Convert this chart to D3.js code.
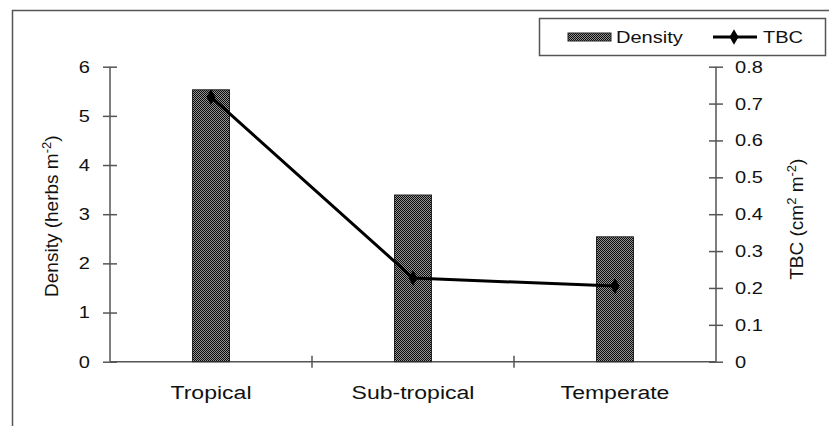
<!DOCTYPE html>
<html>
<head>
<meta charset="utf-8">
<script src="https://cdn.jsdelivr.net/npm/d3@7"></script>
<style>
  body { margin: 0; background: #fff; }
  svg { display: block; font-family: "Liberation Sans", Arial, sans-serif; }
</style>
</head>
<body>
<div class="display"></div>
<script>
const categories = ['Tropical', 'Sub-tropical', 'Temperate'];
const density = [5.53, 3.39, 2.54];
const tbc = [0.718, 0.227, 0.205];
const densityTicks = [0, 1, 2, 3, 4, 5, 6];
const tbcTicks = [0, 0.1, 0.2, 0.3, 0.4, 0.5, 0.6, 0.7, 0.8];

const width = 829;
const height = 426;
const plotLeft = 110;
const plotRight = 716;
const plotTop = 66.7;
const plotBottom = 361.7;
const axisColor = '#555';
const stretch = 1.18; // the original text is a little wider than Arial

const svg = d3.select('.display')
  .append('svg')
  .attr('width', width)
  .attr('height', height);

// checkered fill for the bars
const defs = svg.append('defs');
const pat = defs.append('pattern')
  .attr('id', 'checks')
  .attr('patternUnits', 'userSpaceOnUse')
  .attr('width', 2)
  .attr('height', 2);
pat.append('rect').attr('width', 2).attr('height', 2).attr('fill', '#949494');
pat.append('rect').attr('width', 1).attr('height', 1).attr('fill', '#0a0a0a');
pat.append('rect').attr('x', 1).attr('y', 1).attr('width', 1).attr('height', 1).attr('fill', '#0a0a0a');

// outer frame
svg.append('rect')
  .attr('x', 12.5)
  .attr('y', 10.5)
  .attr('width', width)
  .attr('height', height)
  .attr('fill', 'none')
  .attr('stroke', axisColor)
  .attr('stroke-width', 1.5);

const x = d3.scaleBand().domain(categories).range([plotLeft, plotRight]).padding(0);
const yLeft = d3.scaleLinear().domain([0, 6]).range([plotBottom, plotTop]);
const yRight = d3.scaleLinear().domain([0, 0.8]).range([plotBottom, plotTop]);

const barWidth = x.bandwidth() * 0.183;

// left axis
const gl = svg.append('g')
  .attr('transform', `translate(${plotLeft}, 0)`)
  .call(d3.axisLeft(yLeft).tickValues(densityTicks).tickSize(7).tickPadding(13).tickFormat(d3.format('d')));
gl.selectAll('.tick line').attr('x1', 7).attr('x2', -7);
gl.selectAll('.tick text').attr('x', -20 / stretch);

// right axis
const gr = svg.append('g')
  .attr('transform', `translate(${plotRight}, 0)`)
  .call(d3.axisRight(yRight).tickValues(tbcTicks).tickSize(7).tickPadding(12)
    .tickFormat(d => d === 0 ? '0' : d3.format('.1f')(d)));
gr.selectAll('.tick line').attr('x1', -7).attr('x2', 7);
gr.selectAll('.tick text').attr('x', 19 / stretch);

// bottom axis (labels only, ticks at category boundaries)
const gb = svg.append('g')
  .attr('transform', `translate(0, ${plotBottom})`)
  .call(d3.axisBottom(x).tickSize(0).tickPadding(25));
gb.selectAll('.boundary')
  .data(categories.slice(1))
  .enter()
  .append('line')
  .attr('x1', d => x(d))
  .attr('x2', d => x(d))
  .attr('y1', -6)
  .attr('y2', 6)
  .attr('stroke', axisColor)
  .attr('stroke-width', 1.5);

[gl, gr, gb].forEach(g => {
  g.selectAll('path.domain').attr('stroke', axisColor).attr('stroke-width', 1.5);
  g.selectAll('.tick line').attr('stroke', axisColor).attr('stroke-width', 1.5);
  g.selectAll('.tick text')
    .attr('fill', '#111')
    .attr('font-size', 17)
    .attr('font-family', '"Liberation Sans", Arial, sans-serif')
    .attr('transform', `scale(${stretch},1)`);
});
gb.selectAll('.tick text').attr('font-size', 18).attr('transform', 'scale(1.28,1)');
gl.select('path.domain').attr('d', `M0,${plotTop}V${plotBottom}`);
gr.select('path.domain').attr('d', `M0,${plotTop}V${plotBottom}`);
gb.select('path.domain').attr('d', `M${plotLeft},0H${plotRight}`);

// bars
svg.selectAll('rect.bar')
  .data(categories)
  .enter()
  .append('rect')
  .attr('class', 'bar')
  .attr('x', (d) => x(d) + x.bandwidth() / 2 - barWidth / 2)
  .attr('y', (d, i) => yLeft(density[i]))
  .attr('width', barWidth)
  .attr('height', (d, i) => yLeft(0) - yLeft(density[i]))
  .attr('fill', 'url(#checks)')
  .attr('stroke', '#222')
  .attr('stroke-width', 1);

// TBC line
const line = d3.line()
  .x((d, i) => x(categories[i]) + x.bandwidth() / 2)
  .y(d => yRight(d));

svg.append('path')
  .datum(tbc)
  .attr('d', line)
  .attr('fill', 'none')
  .attr('stroke', '#000')
  .attr('stroke-width', 3);

const diamond = d3.symbol().type(d3.symbolDiamond).size(70);
svg.selectAll('path.marker')
  .data(tbc)
  .enter()
  .append('path')
  .attr('class', 'marker')
  .attr('d', diamond)
  .attr('transform', (d, i) => `translate(${x(categories[i]) + x.bandwidth() / 2}, ${yRight(d)})`)
  .attr('fill', '#000');

// axis titles
svg.append('text')
  .attr('transform', `translate(58, ${(plotTop + plotBottom) / 2 + 2}) rotate(-90)`)
  .attr('text-anchor', 'middle')
  .attr('font-size', 19)
  .attr('fill', '#111')
  .html('Density (herbs m<tspan dy="-7" font-size="13">-2</tspan><tspan dy="7">)</tspan>');

svg.append('text')
  .attr('transform', `translate(803, ${(plotTop + plotBottom) / 2 + 5}) rotate(-90)`)
  .attr('text-anchor', 'middle')
  .attr('font-size', 19)
  .attr('fill', '#111')
  .html('TBC (cm<tspan dy="-7" font-size="13">2</tspan><tspan dy="7"> m</tspan><tspan dy="-7" font-size="13">-2</tspan><tspan dy="7">)</tspan>');

// legend
const legend = svg.append('g').attr('id', 'legend');
legend.append('rect')
  .attr('x', 539.5)
  .attr('y', 18.5)
  .attr('width', 286)
  .attr('height', 37)
  .attr('fill', '#fff')
  .attr('stroke', axisColor)
  .attr('stroke-width', 1.5);
legend.append('rect')
  .attr('x', 568)
  .attr('y', 33)
  .attr('width', 43)
  .attr('height', 8)
  .attr('fill', 'url(#checks)')
  .attr('stroke', '#222');
legend.append('text')
  .attr('transform', `translate(616, 43) scale(${stretch},1)`)
  .attr('font-size', 17)
  .attr('fill', '#111')
  .text('Density');
legend.append('line')
  .attr('x1', 713)
  .attr('x2', 757)
  .attr('y1', 37)
  .attr('y2', 37)
  .attr('stroke', '#000')
  .attr('stroke-width', 3);
legend.append('path')
  .attr('d', diamond)
  .attr('transform', 'translate(734, 37)')
  .attr('fill', '#000');
legend.append('text')
  .attr('transform', `translate(763, 43) scale(${stretch},1)`)
  .attr('font-size', 17)
  .attr('fill', '#111')
  .text('TBC');
</script>
</body>
</html>
